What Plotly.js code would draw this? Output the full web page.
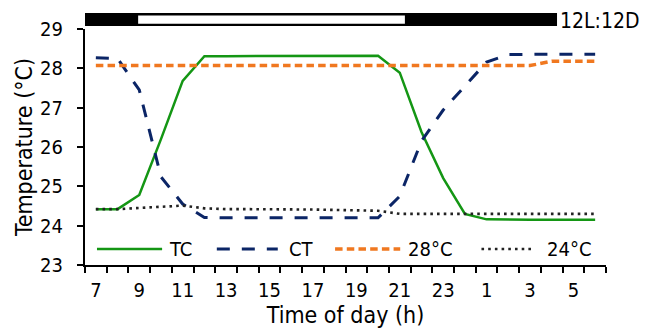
<!DOCTYPE html>
<html>
<head>
<meta charset="utf-8">
<script src="https://cdn.plot.ly/plotly-3.0.1.min.js"></script>
<style>html,body{margin:0;padding:0;background:#fff;}#chart{width:652px;height:329px;}</style>
</head>
<body>
<div id="chart"></div>
<script>
// Hours of the day (categories, 7h through 6h next morning)
const hours = [7,8,9,10,11,12,13,14,15,16,17,18,19,20,21,22,23,0,1,2,3,4,5,6];
// Series values (°C)
const TC  = [24.42,24.42,24.78,26.2,27.68,28.31,28.31,28.31,28.31,28.31,28.32,28.32,28.32,28.32,27.89,26.38,25.21,24.3,24.16,24.15,24.15,24.15,24.15,24.15];
const CT  = [28.27,28.25,27.45,25.24,24.55,24.21,24.2,24.2,24.2,24.2,24.2,24.2,24.2,24.2,24.75,26.15,26.94,27.56,28.16,28.35,28.36,28.36,28.36,28.36];
const T28 = [28.07,28.07,28.07,28.07,28.07,28.07,28.07,28.07,28.07,28.07,28.07,28.07,28.07,28.07,28.07,28.07,28.07,28.07,28.07,28.07,28.07,28.18,28.18,28.18];
const T24 = [24.42,24.42,24.45,24.48,24.51,24.44,24.42,24.42,24.42,24.41,24.41,24.4,24.39,24.38,24.3,24.3,24.3,24.3,24.3,24.3,24.3,24.3,24.3,24.3];
const seriesNames = ['TC','CT','28°C','24°C'];
const yTicks = [23,24,25,26,27,28,29];
const photoLabel = '12L:12D';

const idx = hours.map((h,i)=>i);
const tickIdx = idx.filter(i=>i%2===0);
const tickText = tickIdx.map(i=>String(hours[i]));

const FONT = '"DejaVu Sans Condensed", "DejaVu Sans", sans-serif';
const colors = ['#149614','#0b2566','#f07820','#222222'];
const styles = [
  {width:2.5, dash:'solid'},
  {width:3, dash:'13px,12px'},
  {width:3.5, dash:'7.5px,4.2px'},
  {width:2.6, dash:'2.6px,4.1px'}
];
const data = [TC, CT, T28, T24].map((ys,k)=>({
  x: idx, y: ys, type:'scatter', mode:'lines', name: seriesNames[k],
  line:{color:colors[k], width:styles[k].width, dash:styles[k].dash},
  showlegend:false, hoverinfo:'skip'
}));

// manual legend (paper coords)
const legY = 0.068;
const legItems = [
  {x0:0.023, x1:0.148, tx:0.157},
  {x0:0.253, x1:0.370, tx:0.388},
  {x0:0.480, x1:0.605, tx:0.616},
  {x0:0.761, x1:0.860, tx:0.883}
];
const shapes = [
  {type:'rect', xref:'paper', yref:'paper', x0:0, x1:0.906, y0:1.0127, y1:1.0678, fillcolor:'#000', line:{width:0}},
  {type:'rect', xref:'paper', yref:'paper', x0:0.102, x1:0.614, y0:1.022, y1:1.057, fillcolor:'#fff', line:{width:0}}
];
const annotations = [
  {xref:'paper', yref:'paper', x:0.907, y:1.034, xanchor:'left', yanchor:'middle', text:photoLabel, showarrow:false, font:{family:FONT, size:21, color:'#000'}}
];
legItems.forEach((it,k)=>{
  shapes.push({type:'line', xref:'paper', yref:'paper', x0:it.x0, x1:it.x1, y0:legY, y1:legY,
    line:{color:colors[k], width:styles[k].width, dash:styles[k].dash}});
  annotations.push({xref:'paper', yref:'paper', x:it.tx, y:legY, xanchor:'left', yanchor:'middle',
    text:seriesNames[k], showarrow:false, font:{family:FONT, size:20, color:'#000'}});
});

const layout = {
  width:652, height:329,
  margin:{l:85, r:46, t:29, b:64, pad:0},
  paper_bgcolor:'#fff', plot_bgcolor:'#fff',
  font:{family:FONT, size:20, color:'#000'},
  xaxis:{
    range:[-0.5, 23.5], showgrid:false, zeroline:false,
    showline:true, linecolor:'#000', linewidth:2,
    tickmode:'array', tickvals:tickIdx, ticktext:tickText, ticks:'',
    ticklabelstandoff:6,
    minor:{ticks:'outside', tick0:-0.5, dtick:1, ticklen:6, tickwidth:2, tickcolor:'#000', showgrid:false},
    tickfont:{family:FONT, size:20, color:'#000'},
    title:{text:'Time of day (h)', font:{family:FONT, size:23, color:'#000'}, standoff:1},
    automargin:false, fixedrange:true
  },
  yaxis:{
    range:[23,29], showgrid:false, zeroline:false,
    showline:true, linecolor:'#000', linewidth:2,
    tickmode:'array', tickvals:yTicks, ticks:'outside', ticklen:6, tickwidth:2, tickcolor:'#000',
    ticklabelstandoff:10,
    tickfont:{family:FONT, size:20, color:'#000'},
    title:{text:'Temperature (°C)', font:{family:FONT, size:23, color:'#000'}, standoff:1},
    automargin:false, fixedrange:true
  },
  shapes:shapes,
  annotations:annotations,
  showlegend:false
};
Plotly.newPlot('chart', data, layout, {displayModeBar:false, staticPlot:true});
</script>
</body>
</html>
